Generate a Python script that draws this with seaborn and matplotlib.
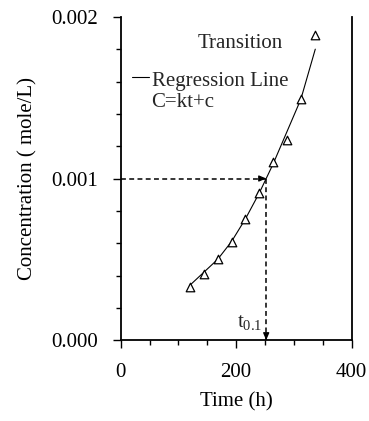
import numpy as np
import pandas as pd
import matplotlib
matplotlib.use("Agg")
import matplotlib.pyplot as plt
import seaborn as sns

# Measured concentrations during the transition stage
time_h = [120, 144, 168, 192, 216, 240, 264, 288, 312, 336]
conc = [0.00033, 0.00041, 0.00050, 0.00061, 0.00075, 0.00091, 0.00110, 0.00124, 0.00149, 0.00189]

# Regression line vertices
fit_time = [120, 144, 168, 192, 216, 240, 264, 288, 312, 337]
fit_conc = [0.00034, 0.00042, 0.00050, 0.00061, 0.00075, 0.00091, 0.00109, 0.00129, 0.00149, 0.00180]

x_ticks = [0, 200, 400]
y_ticks = [0.000, 0.001, 0.002]
y_tick_labels = ["0.000", "0.001", "0.002"]
c_target = 0.001

sns.set_theme(style="ticks")
plt.rcParams["font.family"] = ["Liberation Serif", "DejaVu Serif"]
plt.rcParams["mathtext.fontset"] = "custom"
plt.rcParams["mathtext.rm"] = "Liberation Serif"
plt.rcParams["mathtext.it"] = "Liberation Serif:italic"

FS = 15
fig = plt.figure(figsize=(3.69, 4.21), dpi=100)
ax = fig.add_axes([0.327, 0.192, 0.626, 0.768])

data = pd.DataFrame({"t": time_h, "C": conc})
fit = pd.DataFrame({"t": fit_time, "C": fit_conc})

sns.lineplot(data=fit, x="t", y="C", ax=ax, color="black", linewidth=0.8,
             sort=False, zorder=2)
sns.scatterplot(data=data, x="t", y="C", ax=ax, marker="^", s=38,
                facecolor="white", edgecolor="black", linewidth=0.9, zorder=3)

# time at which the regression line reaches the target concentration
t_target = float(np.interp(c_target, fit_conc, fit_time))

dash = (0, (3.2, 2.2))
ax.plot([0, t_target], [c_target, c_target], color="black", lw=1.1,
        linestyle=dash, zorder=1)
ax.plot([t_target, t_target], [c_target, 0], color="black", lw=1.1,
        linestyle=dash, zorder=1)
head = dict(arrowstyle="-|>,head_length=0.35,head_width=0.15", color="black",
            lw=0.9, shrinkA=0, shrinkB=0)
ax.annotate("", xy=(t_target, c_target), xytext=(t_target - 8, c_target),
            arrowprops=head)
ax.annotate("", xy=(t_target, 0.0), xytext=(t_target, 0.00004),
            arrowprops=head)

ax.text(t_target - 7, 0.00008, r"t$_{\mathrm{0.1}}$", fontsize=FS,
        ha="right", va="baseline")

# key
ax.text(134, 0.00181, "Transition", fontsize=FS, ha="left", va="baseline")
ax.plot([0.048, 0.124], [0.815, 0.815], transform=ax.transAxes,
        color="black", lw=0.8, clip_on=False)
ax.text(53.5, 0.001575, "Regression Line", fontsize=FS, ha="left", va="baseline")
ax.text(53.5, 0.001445, "C=kt+c", fontsize=FS, ha="left", va="baseline")

ax.set_xlim(0, 400)
ax.set_ylim(0, 0.002)
ax.set_xticks(x_ticks)
ax.set_xticks(np.arange(0, 401, 50), minor=True)
ax.set_yticks(y_ticks)
ax.set_yticklabels(y_tick_labels)
ax.set_yticks(np.arange(0, 0.00201, 0.0002), minor=True)

ax.tick_params(which="major", direction="out", length=5.5, width=1.0,
               labelsize=FS, color="black", labelcolor="black")
ax.tick_params(axis="y", which="major", pad=11)
ax.tick_params(axis="x", which="major", pad=11)
ax.tick_params(which="minor", direction="out", length=3.5, width=1.0,
               color="black")

for side in ["left", "bottom", "right"]:
    ax.spines[side].set_color("black")
    ax.spines[side].set_linewidth(1.3)
ax.spines["top"].set_visible(False)

ax.set_xlabel("Time (h)", fontsize=FS, labelpad=7, color="black")
ax.set_ylabel("Concentration ( mole/L)", fontsize=FS, labelpad=10, color="black")

fig.savefig("out.png", dpi=100)
